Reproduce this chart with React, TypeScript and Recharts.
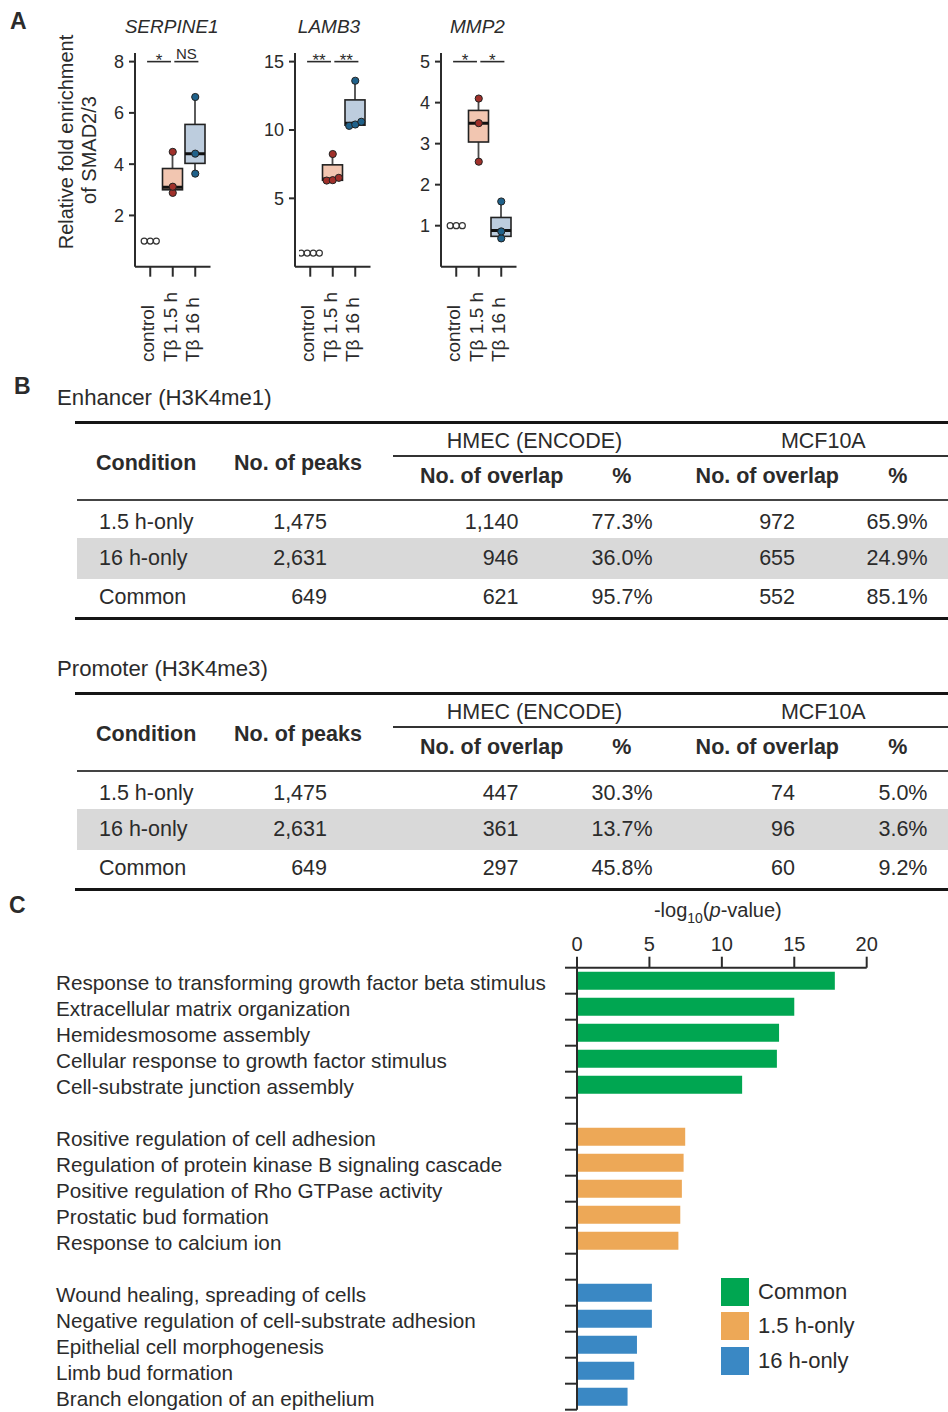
import React from 'react';
import {
  ComposedChart,
  BarChart,
  Bar,
  Scatter,
  XAxis,
  YAxis,
  ReferenceLine,
  Cell,
  Legend,
} from 'recharts';

const FONT = '"Liberation Sans", Arial, Helvetica, sans-serif';
const INK = '#2b2b2b';

// ---------------- Panel A data ----------------
const groupLabels = ['control', 'Tβ 1.5 h', 'Tβ 16 h'];
const geneNames = ['SERPINE1', 'LAMB3', 'MMP2'];

const serpine1Points = [[1, 1, 1], [4.48, 3.12, 2.88], [6.62, 4.41, 3.63]];
const lamb3Points = [[1, 1, 1, 1], [8.24, 6.5, 6.33, 6.3], [13.6, 10.6, 10.4, 10.3]];
const mmp2Points = [[1, 1, 1], [4.1, 3.5, 2.56], [1.59, 0.86, 0.69]];

// [min, q1, median, q3, max]
const serpine1Boxes = [null, [2.88, 3.0, 3.1, 3.83, 4.48], [3.63, 4.03, 4.41, 5.55, 6.62]];
const lamb3Boxes = [null, [6.3, 6.32, 6.42, 7.45, 8.24], [10.3, 10.35, 10.5, 12.2, 13.6]];
const mmp2Boxes = [null, [2.56, 3.04, 3.5, 3.81, 4.1], [0.69, 0.74, 0.88, 1.2, 1.59]];

const serpine1Ticks = [2, 4, 6, 8];
const lamb3Ticks = [5, 10, 15];
const mmp2Ticks = [1, 2, 3, 4, 5];

const serpine1Sig = ['*', 'NS'];
const lamb3Sig = ['**', '**'];
const mmp2Sig = ['*', '*'];

// comparison brackets (in group positions: control=1, 1.5h=2, 16h=3)
const sigSpans = [[0.86, 1.92], [2.07, 3.14]];

// ---------------- Panel B data ----------------
const tableHeaderTop = ['HMEC (ENCODE)', 'MCF10A'];
const tableHeaderSub = ['No. of overlap', '%', 'No. of overlap', '%'];
const tableHeaderMain = ['Condition', 'No. of peaks'];
const enhancerRows = [
  ['1.5 h-only', '1,475', '1,140', '77.3%', '972', '65.9%'],
  ['16 h-only', '2,631', '946', '36.0%', '655', '24.9%'],
  ['Common', '649', '621', '95.7%', '552', '85.1%'],
];
const promoterRows = [
  ['1.5 h-only', '1,475', '447', '30.3%', '74', '5.0%'],
  ['16 h-only', '2,631', '361', '13.7%', '96', '3.6%'],
  ['Common', '649', '297', '45.8%', '60', '9.2%'],
];

// ---------------- Panel C data ----------------
const goTerms = [
  'Response to transforming growth factor beta stimulus',
  'Extracellular matrix organization',
  'Hemidesmosome assembly',
  'Cellular response to growth factor stimulus',
  'Cell-substrate junction assembly',
  'Rositive regulation of cell adhesion',
  'Regulation of protein kinase B signaling cascade',
  'Positive regulation of Rho GTPase activity',
  'Prostatic bud formation',
  'Response to calcium ion',
  'Wound healing, spreading of cells',
  'Negative regulation of cell-substrate adhesion',
  'Epithelial cell morphogenesis',
  'Limb bud formation',
  'Branch elongation of an epithelium',
];
const goValues = [17.8, 15.0, 13.95, 13.8, 11.4, 7.47, 7.36, 7.24, 7.13, 7.0, 5.17, 5.17, 4.14, 3.95, 3.49];
const goGroupIdx = [0, 0, 0, 0, 0, 1, 1, 1, 1, 1, 2, 2, 2, 2, 2];
const goGroupNames = ['Common', '1.5 h-only', '16 h-only'];
const goGroupColors = ['#00A651', '#EDA857', '#3A88C4'];
const goXTicks = [0, 5, 10, 15, 20];

// ---------------- helpers ----------------
type TxtProps = {
  x: number;
  y: number;
  anchor?: 'start' | 'middle' | 'end';
  size?: number;
  bold?: boolean;
  italic?: boolean;
  color?: string;
  children: React.ReactNode;
};
function Txt({ x, y, anchor = 'start', size = 21.5, bold, italic, color = INK, children }: TxtProps) {
  const tx = anchor === 'start' ? '0' : anchor === 'middle' ? '-50%' : '-100%';
  return (
    <div
      style={{
        position: 'absolute',
        left: x,
        top: y - size / 2,
        fontSize: size,
        lineHeight: `${size}px`,
        fontWeight: bold ? 700 : 400,
        fontStyle: italic ? 'italic' : 'normal',
        transform: `translateX(${tx})`,
        whiteSpace: 'nowrap',
        color,
      }}
    >
      {children}
    </div>
  );
}

function HLine({ x1, x2, y, t, color = '#111' }: { x1: number; x2: number; y: number; t: number; color?: string }) {
  return (
    <div style={{ position: 'absolute', left: x1, top: y - t / 2, width: x2 - x1, height: t, background: color }} />
  );
}

// ---------------- Panel A ----------------
const boxFills = ['#ffffff', '#F2C6B1', '#BDCDDE'];
const dotFills = ['#ffffff', '#A0302A', '#1F618A'];
const GENE_PLOT_W = 75.5;
const GENE_TOP = 53;
const GENE_PLOT_H = 213.7;
const GENE_H = 372;

function swarm(points: number[][], yMax: number) {
  const out: { px: number; v: number; g: number }[] = [];
  const thr = yMax * 0.022;
  points.forEach((vals, gi) => {
    const sorted = [...vals].sort((a, b) => a - b);
    let cluster: number[] = [];
    const flush = () => {
      cluster.forEach((v, k) => {
        out.push({ px: gi + 1 + (k - (cluster.length - 1) / 2) * 0.27, v, g: gi });
      });
      cluster = [];
    };
    sorted.forEach((v) => {
      if (cluster.length && v - cluster[cluster.length - 1] > thr) flush();
      cluster.push(v);
    });
    flush();
  });
  return out;
}

function BoxShape(props: any) {
  const { x, y, width, height, payload } = props;
  const s = payload && payload.stats;
  if (!s || height === undefined || height === null) return null;
  const [mn, q1, md, q3, mx] = s;
  const top = Math.min(y, y + height);
  const h = Math.abs(height);
  if (!h) return null;
  const py = (v: number) => top + (h * (mx - v)) / (mx - mn);
  const cx = x + width / 2;
  return (
    <g>
      <line x1={cx} x2={cx} y1={py(mx)} y2={py(mn)} stroke="#4a4a4a" strokeWidth={1.8} />
      <rect
        x={x}
        y={py(q3)}
        width={width}
        height={Math.max(py(q1) - py(q3), 1)}
        fill={boxFills[payload.idx]}
        stroke="#222"
        strokeWidth={1.6}
      />
      <line x1={x} x2={x + width} y1={py(md)} y2={py(md)} stroke="#111" strokeWidth={3} />
    </g>
  );
}

function DotShape(props: any) {
  const { cx, cy, payload } = props;
  const g = payload.g;
  return (
    <circle
      cx={cx}
      cy={cy}
      r={g === 0 ? 3 : 3.6}
      fill={dotFills[g]}
      stroke={g === 0 ? '#333' : '#222'}
      strokeWidth={g === 0 ? 1.2 : 1}
    />
  );
}

function GroupTick(props: any) {
  const { x, payload } = props;
  const bx = x + 4;
  const by = 362;
  return (
    <text x={bx} y={by} transform={`rotate(-90 ${bx} ${by})`} textAnchor="start" fontSize={19} fill={INK}>
      {payload.value}
    </text>
  );
}

function SigLabel({ viewBox, text }: { viewBox: any; text: string }) {
  if (!viewBox) return null;
  const { x, y, width } = viewBox;
  const star = text.includes('*');
  return (
    <text x={x + (width || 0) / 2} y={star ? y + 4 : y - 2.5} textAnchor="middle" fontSize={star ? 17 : 15} fill={INK}>
      {text}
    </text>
  );
}

function GenePlot({
  points,
  boxes,
  ticks,
  sig,
  axisX,
}: {
  points: number[][];
  boxes: (number[] | null)[];
  ticks: number[];
  sig: string[];
  axisX: number;
}) {
  const topTick = ticks[ticks.length - 1];
  const yMax = topTick * 1.042;
  const data = groupLabels.map((g, i) => ({
    group: g,
    idx: i,
    stats: boxes[i],
    range: boxes[i] ? [boxes[i]![0], boxes[i]![4]] : null,
  }));
  const pts = swarm(points, yMax);
  const yw = 42;
  const right = 14;
  const W = yw + GENE_PLOT_W + right;
  const xAxisH = GENE_H - GENE_TOP - GENE_PLOT_H;
  const axisStyle = { stroke: INK, strokeWidth: 2 };
  return (
    <div style={{ position: 'absolute', left: axisX - yw, top: 0 }}>
      <ComposedChart width={W} height={GENE_H} data={data} margin={{ top: GENE_TOP, right, bottom: 0, left: 0 }}>
        <XAxis
          xAxisId="cat"
          dataKey="group"
          type="category"
          padding={{ left: 4, right: 4 }}
          height={xAxisH}
          tickSize={10}
          axisLine={axisStyle}
          tickLine={axisStyle}
          interval={0}
          tick={(p: any) => <GroupTick {...p} />}
        />
        <XAxis
          xAxisId="num"
          dataKey="px"
          type="number"
          domain={[0.5, 3.5]}
          padding={{ left: 4, right: 4 }}
          allowDataOverflow
          hide
        />
        <YAxis
          dataKey="v"
          type="number"
          domain={[0, yMax]}
          ticks={ticks}
          allowDataOverflow
          width={yw}
          tickSize={6}
          tickMargin={5}
          axisLine={axisStyle}
          tickLine={axisStyle}
          tick={{ fill: INK, fontSize: 18 }}
        />
        <Bar xAxisId="cat" dataKey="range" barSize={20} isAnimationActive={false} shape={(p: any) => <BoxShape {...p} />} />
        <Scatter xAxisId="num" data={pts} dataKey="v" isAnimationActive={false} shape={(p: any) => <DotShape {...p} />} />
        {sigSpans.map((s, i) => (
          <ReferenceLine
            key={i}
            xAxisId="num"
            segment={[
              { x: s[0], y: topTick },
              { x: s[1], y: topTick },
            ]}
            stroke={INK}
            strokeWidth={1.6}
            ifOverflow="visible"
            label={{ content: (p: any) => <SigLabel viewBox={p.viewBox} text={sig[i]} /> }}
          />
        ))}
      </ComposedChart>
    </div>
  );
}

// ---------------- Panel B ----------------
const colX = [99, 327, 518.5, 652.5, 795, 927.5];
const colAnchor: ('start' | 'end')[] = ['start', 'end', 'end', 'end', 'end', 'end'];
const topHeaderX = [534.5, 823.3];
const subHeaderX = [491.7, 621.7, 767.3, 897.7];
const mainHeaderX = [96, 298];
const mainHeaderAnchor: ('start' | 'middle')[] = ['start', 'middle'];

function DataTable({ top, title, rows }: { top: number; title: string; rows: string[][] }) {
  const rowY = [100.2, 136.9, 175.2];
  return (
    <>
      <Txt x={57} y={top - 24.5} size={22.2}>{title}</Txt>
      <HLine x1={75} x2={948} y={top} t={3} color="#151515" />
      {tableHeaderTop.map((h, i) => (
        <Txt key={h} x={topHeaderX[i]} y={top + 19.7} anchor="middle">
          {h}
        </Txt>
      ))}
      <HLine x1={393} x2={948} y={top + 33.7} t={1.6} color="#333" />
      {tableHeaderSub.map((h, i) => (
        <Txt key={i} x={subHeaderX[i]} y={top + 54.4} anchor="middle" bold>
          {h}
        </Txt>
      ))}
      {tableHeaderMain.map((h, i) => (
        <Txt key={h} x={mainHeaderX[i]} y={top + 41.5} anchor={mainHeaderAnchor[i]} bold>
          {h}
        </Txt>
      ))}
      <HLine x1={76.7} x2={948} y={top + 77.7} t={2.2} color="#444" />
      <div
        style={{ position: 'absolute', left: 77, top: top + 116, width: 948 - 77, height: 41, background: '#D9D9D9' }}
      />
      {rows.map((r, ri) =>
        r.map((c, ci) => (
          <Txt key={`${ri}-${ci}`} x={colX[ci]} y={top + rowY[ri]} anchor={colAnchor[ci]}>
            {c}
          </Txt>
        ))
      )}
      <HLine x1={75} x2={948} y={top + 196} t={3} color="#151515" />
    </>
  );
}

// ---------------- Panel C ----------------
type GoRow = { term: string; value: number | null; gi: number };
const goRows: GoRow[] = [];
goTerms.forEach((t, i) => {
  if (i > 0 && goGroupIdx[i] !== goGroupIdx[i - 1]) goRows.push({ term: `gap${i}`, value: null, gi: -1 });
  goRows.push({ term: t, value: goValues[i], gi: goGroupIdx[i] });
});

const C_TOP = 890;
const C_W = 948;
const C_H = 522;
const C_MARGIN = { top: 47.7, right: 81.3, bottom: 2.3, left: 57 };
const C_YAXIS_W = 520;
const C_XAXIS_H = 30;
const C_PLOT_LEFT = C_MARGIN.left + C_YAXIS_W;
const C_PLOT_H = C_H - C_MARGIN.top - C_MARGIN.bottom - C_XAXIS_H;
const C_SLOT = C_PLOT_H / goRows.length;

function GoTick(props: any) {
  const { y, payload, index } = props;
  const label = String(payload.value);
  const gap = label.startsWith('gap');
  const half = C_SLOT / 2;
  return (
    <g>
      {!gap && (
        <text x={56} y={y + 9} fontSize={20.7} fill={INK} textAnchor="start">
          {label}
        </text>
      )}
      <line x1={C_PLOT_LEFT - 12} x2={C_PLOT_LEFT} y1={y + half} y2={y + half} stroke={INK} strokeWidth={2} />
      {index === 0 && (
        <line x1={C_PLOT_LEFT - 12} x2={C_PLOT_LEFT} y1={y - half} y2={y - half} stroke={INK} strokeWidth={2} />
      )}
    </g>
  );
}

function AxisTitle(props: any) {
  const vb = props.viewBox || {};
  const cx = (vb.x ?? C_PLOT_LEFT) + (vb.width ?? 290) / 2 - 4;
  const axisLineY = (vb.y ?? C_MARGIN.top) + (vb.height ?? C_XAXIS_H);
  const y = axisLineY - 51;
  return (
    <text x={cx} y={y} textAnchor="middle" fontSize={20} fill={INK}>
      -log
      <tspan fontSize={14} dy={6}>
        10
      </tspan>
      <tspan dy={-6}>(</tspan>
      <tspan fontStyle="italic">p</tspan>
      <tspan>-value)</tspan>
    </text>
  );
}

function GoLegend() {
  return (
    <div style={{ fontFamily: FONT }}>
      {goGroupNames.map((n, i) => (
        <div key={n} style={{ display: 'flex', alignItems: 'center', height: 34.7 }}>
          <div style={{ width: 28, height: 28, background: goGroupColors[i] }} />
          <div style={{ marginLeft: 9, fontSize: 22, color: INK, whiteSpace: 'nowrap' }}>{n}</div>
        </div>
      ))}
    </div>
  );
}

function GoChart() {
  const axisStyle = { stroke: INK, strokeWidth: 2 };
  return (
    <div style={{ position: 'absolute', left: 0, top: C_TOP }}>
      <BarChart width={C_W} height={C_H} data={goRows} layout="vertical" margin={C_MARGIN}>
        <XAxis
          type="number"
          orientation="top"
          domain={[0, 20]}
          ticks={goXTicks}
          allowDataOverflow
          height={C_XAXIS_H}
          tickSize={11}
          tickMargin={6}
          axisLine={axisStyle}
          tickLine={axisStyle}
          tick={{ fill: INK, fontSize: 20 }}
          label={{ content: (p: any) => <AxisTitle {...p} /> }}
        />
        <YAxis
          type="category"
          dataKey="term"
          width={C_YAXIS_W}
          interval={0}
          axisLine={axisStyle}
          tickLine={false}
          tick={(p: any) => <GoTick {...p} />}
        />
        <Bar dataKey="value" barSize={18} isAnimationActive={false}>
          {goRows.map((r, i) => (
            <Cell key={i} fill={r.gi >= 0 ? goGroupColors[r.gi] : 'transparent'} />
          ))}
        </Bar>
        <Legend
          layout="horizontal"
          verticalAlign="middle"
          align="center"
          wrapperStyle={{ top: 1274.3 - C_TOP, left: 721, width: 220, height: 110 }}
          content={() => <GoLegend />}
        />
      </BarChart>
    </div>
  );
}

// ---------------- App ----------------
const genePlots = [
  { points: serpine1Points, boxes: serpine1Boxes, ticks: serpine1Ticks, sig: serpine1Sig, axisX: 135, titleX: 171.7 },
  { points: lamb3Points, boxes: lamb3Boxes, ticks: lamb3Ticks, sig: lamb3Sig, axisX: 295, titleX: 329 },
  { points: mmp2Points, boxes: mmp2Boxes, ticks: mmp2Ticks, sig: mmp2Sig, axisX: 440.7, titleX: 477.5 },
];

export default function App() {
  return (
    <div
      style={{
        position: 'absolute',
        left: 0,
        top: 0,
        width: 948,
        height: 1412,
        overflow: 'hidden',
        background: '#fff',
        fontFamily: FONT,
        color: INK,
      }}
    >
      {/* Panel letters */}
      <Txt x={10} y={21.5} size={23} bold>
        A
      </Txt>
      <Txt x={14} y={386.5} size={23} bold>
        B
      </Txt>
      <Txt x={9} y={905} size={23} bold>
        C
      </Txt>

      {/* Panel A */}
      <div
        style={{
          position: 'absolute',
          left: 66,
          top: 142,
          transform: 'translate(-50%, -50%) rotate(-90deg)',
          fontSize: 20,
          lineHeight: '20px',
          whiteSpace: 'nowrap',
          textAlign: 'center',
        }}
      >
        Relative fold enrichment
      </div>
      <div
        style={{
          position: 'absolute',
          left: 89,
          top: 150,
          transform: 'translate(-50%, -50%) rotate(-90deg)',
          fontSize: 20,
          lineHeight: '20px',
          whiteSpace: 'nowrap',
          textAlign: 'center',
        }}
      >
        of SMAD2/3
      </div>
      {genePlots.map((g, i) => (
        <React.Fragment key={geneNames[i]}>
          <Txt x={g.titleX} y={26} anchor="middle" size={19} italic>
            {geneNames[i]}
          </Txt>
          <GenePlot points={g.points} boxes={g.boxes} ticks={g.ticks} sig={g.sig} axisX={g.axisX} />
        </React.Fragment>
      ))}

      {/* Panel B */}
      <DataTable top={422.3} title="Enhancer (H3K4me1)" rows={enhancerRows} />
      <DataTable top={693.3} title="Promoter (H3K4me3)" rows={promoterRows} />

      {/* Panel C */}
      <GoChart />
    </div>
  );
}
